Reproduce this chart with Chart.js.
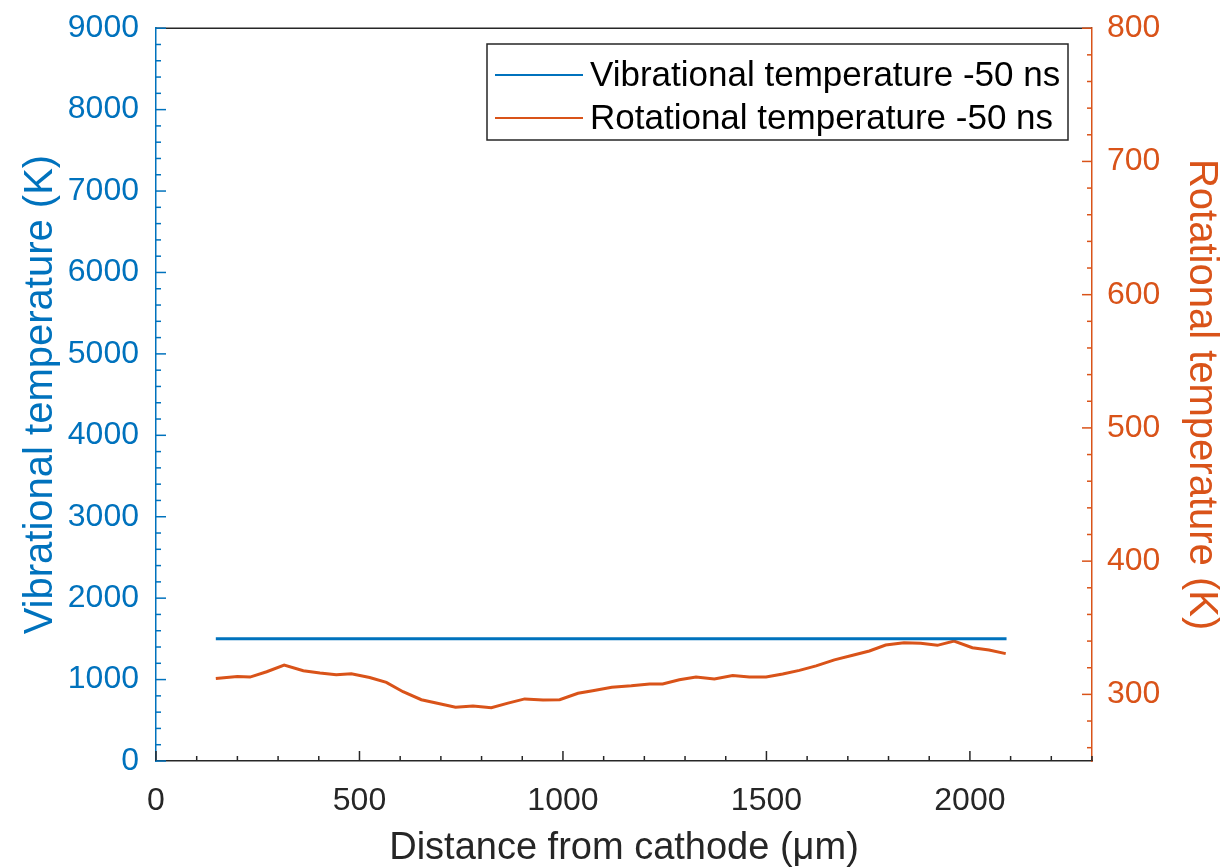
<!DOCTYPE html>
<html>
<head>
<meta charset="utf-8">
<script src="https://cdn.jsdelivr.net/npm/chart.js@4.4.0/dist/chart.umd.min.js"></script>
<style>
  html, body { margin: 0; padding: 0; background: #fff; }
  #wrap { width: 1222px; height: 867px; }
</style>
</head>
<body>
<div id="wrap"><canvas id="c" width="1222" height="867"></canvas></div>
<script>
// values
const vibDistance = [147, 2090];
const vibTemp = [1500, 1500];

const rotDistance = [147, 200, 231, 272, 315, 362, 403, 443, 480, 525, 566, 607, 652, 697, 736, 779,
  824, 865, 906, 951, 992, 1037, 1073, 1120, 1168, 1213, 1245, 1286, 1327, 1372, 1417, 1458,
  1499, 1540, 1581, 1622, 1667, 1712, 1753, 1793, 1838, 1879, 1920, 1961, 2006, 2047, 2088];
const rotTemp = [312, 313.5, 313, 317, 322, 317.7, 316, 314.7, 315.5, 312.7, 309, 302, 296, 293, 290.4, 291.3,
  290, 293.4, 296.6, 295.8, 296, 300.8, 302.8, 305.3, 306.4, 307.8, 307.8, 311, 313, 311.5, 314.2, 313,
  313, 315.3, 318, 321.4, 325.9, 329.4, 332.6, 337, 338.7, 338.3, 336.8, 340, 335, 333.3, 330.6];

const xTicks = [0, 500, 1000, 1500, 2000];
const leftTicks = [0, 1000, 2000, 3000, 4000, 5000, 6000, 7000, 8000, 9000];
const rightTicks = [300, 400, 500, 600, 700, 800];

const BLUE = '#0072BD';
const ORANGE = '#D95319';
const FONT = '"Liberation Sans", Arial, sans-serif';

const pairs = (xs, ys) => xs.map((x, i) => ({ x, y: ys[i] }));
const fixTicks = vals => scale => { scale.ticks = vals.map(v => ({ value: v })); };
const plain = v => String(v);

// matlab style: ticks pointing inward + top box line
const innerTicks = {
  id: 'innerTicks',
  afterDatasetsDraw(chart) {
    const { ctx, chartArea: a, scales } = chart;
    ctx.save();
    ctx.lineWidth = 1.5;
    // top border
    ctx.strokeStyle = '#262626';
    ctx.beginPath(); ctx.moveTo(a.left, a.top); ctx.lineTo(a.right, a.top); ctx.stroke();
    // x ticks (bottom)
    for (let v = 0; v <= 2300; v += 100) {
      const px = scales.x.getPixelForValue(v);
      const len = v % 500 === 0 ? 10 : 5;
      ctx.beginPath(); ctx.moveTo(px, a.bottom); ctx.lineTo(px, a.bottom - len); ctx.stroke();
    }
    // left ticks
    ctx.strokeStyle = BLUE;
    for (let v = 0; v <= 9000; v += 200) {
      const py = scales.y.getPixelForValue(v);
      const len = v % 1000 === 0 ? 10 : 5;
      ctx.beginPath(); ctx.moveTo(a.left, py); ctx.lineTo(a.left + len, py); ctx.stroke();
    }
    // right ticks
    ctx.strokeStyle = ORANGE;
    for (let v = 260; v <= 800; v += 20) {
      const py = scales.y1.getPixelForValue(v);
      const len = v % 100 === 0 ? 10 : 5;
      ctx.beginPath(); ctx.moveTo(a.right, py); ctx.lineTo(a.right - len, py); ctx.stroke();
    }
    ctx.restore();
  }
};

// boxed legend in upper right
const boxLegend = {
  id: 'boxLegend',
  afterDraw(chart) {
    const { ctx } = chart;
    const x0 = 487, y0 = 44, w = 581, h = 96;
    ctx.save();
    ctx.fillStyle = '#fff';
    ctx.fillRect(x0, y0, w, h);
    ctx.strokeStyle = '#262626';
    ctx.lineWidth = 1.5;
    ctx.strokeRect(x0, y0, w, h);
    ctx.font = '35px ' + FONT;
    ctx.textBaseline = 'middle';
    chart.data.datasets.forEach((ds, i) => {
      const yy = y0 + 31 + i * 43;
      ctx.strokeStyle = ds.borderColor;
      ctx.lineWidth = 2;
      ctx.beginPath(); ctx.moveTo(x0 + 8, yy); ctx.lineTo(x0 + 96, yy); ctx.stroke();
      ctx.fillStyle = '#000';
      ctx.fillText(ds.label, x0 + 103, yy + 1);
    });
    ctx.restore();
  }
};

new Chart(document.getElementById('c'), {
  type: 'line',
  data: {
    datasets: [
      { label: 'Vibrational temperature -50 ns', data: pairs(vibDistance, vibTemp), yAxisID: 'y',
        borderColor: BLUE, borderWidth: 3, pointRadius: 0, tension: 0 },
      { label: 'Rotational temperature -50 ns', data: pairs(rotDistance, rotTemp), yAxisID: 'y1',
        borderColor: ORANGE, borderWidth: 3, pointRadius: 0, tension: 0 },
    ],
  },
  options: {
    responsive: false,
    animation: false,
    layout: { padding: { top: 22, left: 0, right: 0, bottom: 0 } },
    plugins: { legend: { display: false }, tooltip: { enabled: false } },
    scales: {
      x: {
        type: 'linear', min: 0, max: 2300,
        afterBuildTicks: fixTicks(xTicks),
        afterFit: s => { s.height = 106; },
        grid: { display: false },
        border: { color: '#262626', width: 1.5 },
        ticks: { color: '#262626', font: { family: FONT, size: 32 }, padding: 13, maxRotation: 0, callback: plain },
        title: { display: true, text: 'Distance from cathode (μm)', color: '#262626',
          font: { family: FONT, size: 38 }, padding: { top: 0, bottom: -4 } },
      },
      y: {
        type: 'linear', position: 'left', min: 0, max: 9000,
        afterBuildTicks: fixTicks(leftTicks),
        afterFit: s => { s.width = 156; },
        grid: { display: false },
        border: { color: BLUE, width: 1.5 },
        ticks: { color: BLUE, font: { family: FONT, size: 32 }, padding: 9, callback: plain },
        title: { display: true, text: 'Vibrational temperature (K)', color: BLUE,
          font: { family: FONT, size: 40 }, padding: { top: 17, bottom: 0 } },
      },
      y1: {
        type: 'linear', position: 'right', min: 250, max: 800,
        afterBuildTicks: fixTicks(rightTicks),
        afterFit: s => { s.width = 130; },
        grid: { display: false },
        border: { color: ORANGE, width: 1.5 },
        ticks: { color: ORANGE, font: { family: FONT, size: 32 }, padding: 7, callback: plain },
        title: { display: true, text: 'Rotational temperature (K)', color: ORANGE,
          font: { family: FONT, size: 40 }, padding: { top: -3, bottom: 0 } },
      },
    },
  },
  plugins: [innerTicks, boxLegend],
});
</script>
</body>
</html>
